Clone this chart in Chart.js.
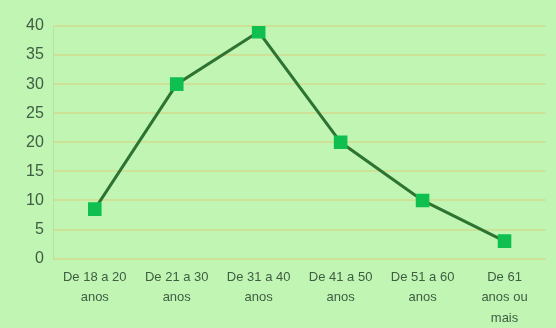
<!DOCTYPE html>
<html>
<head>
<meta charset="utf-8">
<script src="https://cdn.jsdelivr.net/npm/chart.js@4.4.1/dist/chart.umd.min.js"></script>
<style>
  html, body { margin: 0; padding: 0; background: #c1f5b3; }
  #wrap { width: 556px; height: 328px; overflow: hidden; }
</style>
</head>
<body>
<div id="wrap"><canvas id="chart" width="556" height="328"></canvas></div>
<script>
// age groups and values
const CATEGORIES = [
    ['De 18 a 20', 'anos'],
    ['De 21 a 30', 'anos'],
    ['De 31 a 40', 'anos'],
    ['De 41 a 50', 'anos'],
    ['De 51 a 60', 'anos'],
    ['De 61', 'anos ou', 'mais']
];
const VALUES = [8.5, 30, 39, 20, 10, 3];
const Y_MIN = 0;
const Y_MAX = 40;
const Y_STEP = 5;

const GRID = '#cde297';
const TEXT = '#3f5e42';

new Chart(document.getElementById('chart'), {
    type: 'line',
    data: {
        labels: CATEGORIES,
        datasets: [{
            data: VALUES,
            borderColor: '#2d7433',
            borderWidth: 3,
            backgroundColor: '#0fbf4f',
            pointBackgroundColor: '#0fbf4f',
            pointBorderColor: '#0fbf4f',
            pointStyle: 'rect',
            pointRadius: 7.5,
            pointHoverRadius: 7.5,
            tension: 0,
            fill: false
        }]
    },
    options: {
        responsive: false,
        animation: false,
        layout: { padding: { top: 26, right: 2, left: 16, bottom: -1 } },
        plugins: {
            legend: { display: false },
            tooltip: { enabled: false }
        },
        scales: {
            x: {
                offset: true,
                grid: { display: false },
                border: { color: GRID, width: 2 },
                ticks: {
                    autoSkip: false,
                    maxRotation: 0,
                    padding: 0,
                    color: TEXT,
                    font: { family: 'Liberation Sans, Arial, sans-serif', size: 13, lineHeight: 1.6 }
                }
            },
            y: {
                min: Y_MIN,
                max: Y_MAX,
                ticks: {
                    stepSize: Y_STEP,
                    padding: 10,
                    color: TEXT,
                    font: { family: 'Liberation Sans, Arial, sans-serif', size: 16 }
                },
                grid: { color: GRID, lineWidth: 2, drawTicks: false },
                border: { color: '#b6e59a', width: 1 }
            }
        }
    }
});
</script>
</body>
</html>
